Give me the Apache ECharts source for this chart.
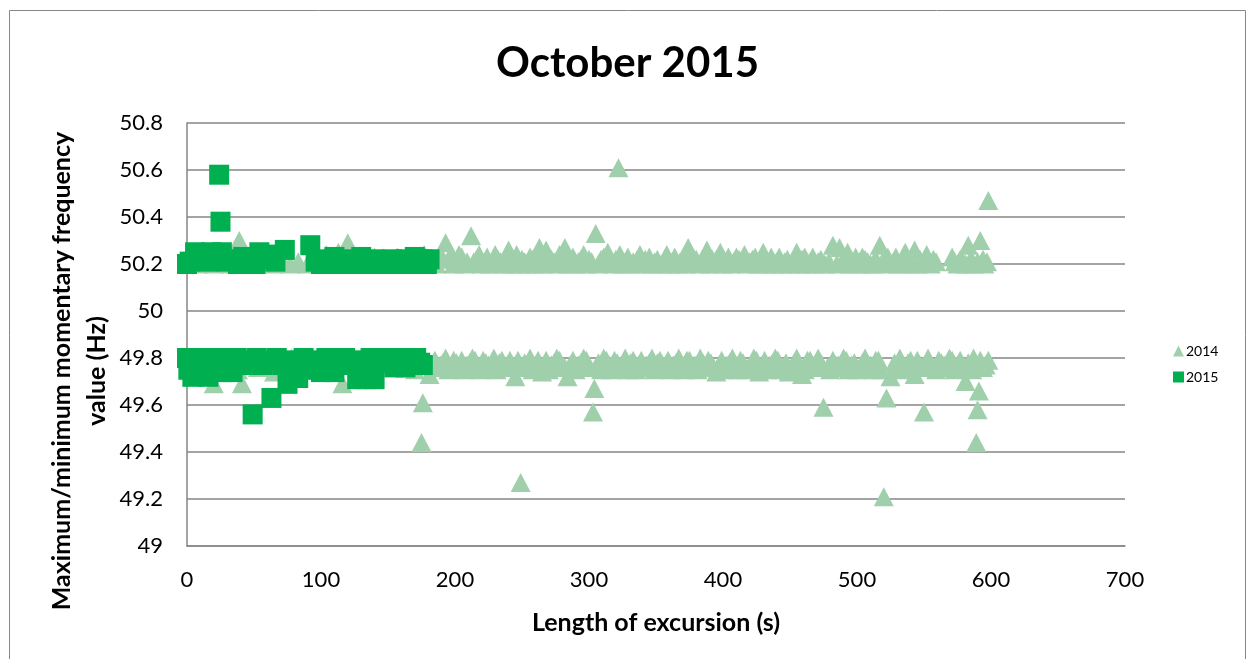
<!DOCTYPE html>
<html>
<head>
<meta charset="utf-8">
<title>October 2015</title>
<script src="https://cdn.jsdelivr.net/npm/echarts@6/dist/echarts.min.js"></script>
<style>
  html, body { margin: 0; padding: 0; background: #fff; }
  #chart { width: 1255px; height: 659px; }
</style>
</head>
<body>
<div id="chart"></div>
<script>
// data: [length of excursion (s), frequency (Hz)]
const xTicks = [0, 100, 200, 300, 400, 500, 600, 700];
const yTicks = [49, 49.2, 49.4, 49.6, 49.8, 50, 50.2, 50.4, 50.6, 50.8];

// 2014 - maximum values
const high2014 = [
  [2,50.21],[8,50.2],[14,50.22],[20,50.2],[27,50.21],[33,50.2],[39,50.3],[45,50.22],[52,50.2],[58,50.21],
  [64,50.2],[70,50.22],[77,50.2],[83,50.21],[90,50.2],[97,50.22],[104,50.24],[110,50.21],[113,50.25],[120,50.29],
  [126,50.21],[133,50.2],[140,50.23],[146,50.21],[152,50.2],[157,50.23],[163,50.21],[170,50.2],[177,50.24],[183,50.21],
  [188,50.23],[193,50.29],[197,50.24],[201,50.21],[205,50.23],[209,50.21],[212,50.32],[216,50.22],[220,50.2],[224,50.23],
  [228,50.21],[232,50.22],[236,50.2],[240,50.26],[244,50.22],[248,50.2],[252,50.21],[256,50.23],[260,50.2],[263,50.27],
  [268,50.26],[272,50.22],[276,50.2],[280,50.23],[282,50.27],[286,50.21],[290,50.2],[294,50.22],[298,50.2],[302,50.21],
  [305,50.33],[309,50.22],[314,50.25],[318,50.2],[322,50.61],[323,50.24],[327,50.21],[331,50.2],[336,50.22],[340,50.2],
  [345,50.23],[349,50.21],[354,50.2],[358,50.24],[362,50.21],[366,50.2],[370,50.22],[374,50.27],[378,50.21],[383,50.2],
  [388,50.26],[392,50.22],[398,50.25],[402,50.21],[406,50.2],[410,50.23],[414,50.21],[418,50.2],[422,50.22],[426,50.2],
  [430,50.25],[434,50.21],[438,50.2],[442,50.23],[446,50.21],[450,50.2],[455,50.25],[459,50.22],[463,50.2],[467,50.23],
  [471,50.21],[476,50.2],[482,50.28],[487,50.27],[490,50.22],[493,50.25],[497,50.21],[500,50.2],[504,50.23],[508,50.21],
  [512,50.2],[517,50.28],[521,50.22],[525,50.2],[529,50.23],[533,50.21],[536,50.25],[540,50.2],[543,50.26],[547,50.22],
  [552,50.24],[555,50.2],[559,50.21],[571,50.23],[575,50.2],[579,50.21],[583,50.28],[587,50.2],[592,50.3],[595,50.2],
  [598,50.47],
  [186,50.2],[191,50.22],[199,50.2],[203,50.24],[207,50.2],[214,50.21],[218,50.24],[222,50.21],[226,50.2],[230,50.24],
  [234,50.21],[238,50.23],[242,50.2],[246,50.24],[250,50.22],[254,50.2],[258,50.22],[262,50.21],[266,50.2],[270,50.23],
  [274,50.21],[278,50.24],[284,50.2],[288,50.23],[292,50.21],[296,50.24],[300,50.22],[307,50.2],[311,50.23],[316,50.21],
  [320,50.22],[325,50.2],[329,50.23],[333,50.21],[338,50.24],[342,50.22],[347,50.2],[351,50.22],[356,50.21],[360,50.2],
  [364,50.23],[368,50.21],[372,50.2],[376,50.23],[380,50.22],[385,50.21],[390,50.2],[395,50.22],[400,50.2],[404,50.23],
  [408,50.21],[412,50.22],[416,50.24],[420,50.21],[424,50.23],[428,50.21],[432,50.2],[436,50.23],[440,50.21],[444,50.2],
  [448,50.22],[452,50.21],[457,50.2],[461,50.23],[465,50.21],[469,50.2],[473,50.22],[479,50.21],[485,50.2],[495,50.2],
  [499,50.23],[502,50.21],[506,50.22],[510,50.2],[514,50.22],[519,50.21],[523,50.23],[527,50.21],[531,50.2],[535,50.22],
  [538,50.21],[545,50.2],[550,50.21],[557,50.22],[573,50.21],[577,50.22],[581,50.2],[585,50.22],[590,50.21],[594,50.22],
  [597,50.21]
];

// 2014 - minimum values
const low2014 = [
  [3,49.78],[9,49.76],[15,49.79],[20,49.69],[26,49.77],[32,49.8],[38,49.75],[41,49.69],[47,49.78],[53,49.76],
  [59,49.79],[65,49.74],[71,49.77],[78,49.8],[84,49.76],[90,49.78],[96,49.75],[102,49.79],[108,49.77],[116,49.69],
  [122,49.78],[128,49.76],[134,49.79],[140,49.75],[146,49.78],[152,49.76],[158,49.8],[164,49.77],[170,49.75],[175,49.44],
  [176,49.61],[179,49.78],[181,49.73],[185,49.79],[189,49.77],[193,49.8],[197,49.76],[201,49.78],[205,49.79],[209,49.77],
  [213,49.8],[217,49.76],[221,49.79],[225,49.77],[229,49.8],[233,49.78],[237,49.76],[241,49.79],[245,49.72],[249,49.27],
  [252,49.78],[256,49.8],[260,49.77],[265,49.74],[268,49.79],[272,49.77],[276,49.8],[280,49.76],[284,49.72],[288,49.79],
  [292,49.77],[296,49.8],[300,49.76],[303,49.57],[304,49.67],[307,49.78],[311,49.8],[315,49.77],[319,49.79],[323,49.76],
  [327,49.8],[331,49.78],[335,49.75],[339,49.79],[343,49.77],[347,49.8],[351,49.78],[355,49.76],[359,49.79],[363,49.77],
  [367,49.8],[371,49.75],[375,49.79],[379,49.77],[383,49.8],[387,49.76],[391,49.78],[395,49.74],[399,49.79],[403,49.77],
  [407,49.8],[411,49.75],[415,49.78],[419,49.76],[423,49.8],[427,49.74],[431,49.79],[435,49.77],[439,49.8],[443,49.75],
  [447,49.78],[451,49.76],[455,49.8],[459,49.73],[463,49.79],[467,49.77],[471,49.8],[475,49.59],[478,49.76],[482,49.79],
  [486,49.77],[490,49.8],[494,49.75],[498,49.78],[502,49.76],[506,49.8],[510,49.77],[514,49.79],[518,49.75],[520,49.21],
  [522,49.63],[525,49.72],[528,49.78],[532,49.8],[536,49.76],[540,49.79],[543,49.73],[547,49.77],[550,49.57],[553,49.8],
  [557,49.76],[561,49.79],[565,49.77],[569,49.8],[573,49.75],[577,49.79],[581,49.7],[584,49.77],[587,49.8],[589,49.44],
  [590,49.58],[591,49.66],[594,49.76],[598,49.79],
  [187,49.76],[191,49.78],[195,49.75],[199,49.79],[203,49.76],[207,49.75],[211,49.78],[215,49.79],[219,49.75],[223,49.78],
  [227,49.76],[231,49.75],[235,49.79],[239,49.77],[243,49.76],[247,49.79],[254,49.76],[258,49.75],[262,49.79],[270,49.75],
  [274,49.78],[278,49.79],[282,49.76],[286,49.77],[290,49.75],[294,49.78],[298,49.79],[305,49.76],[309,49.75],[313,49.79],
  [317,49.75],[321,49.78],[325,49.77],[329,49.75],[333,49.79],[337,49.77],[341,49.76],[345,49.78],[349,49.75],[353,49.79],
  [357,49.77],[361,49.75],[365,49.78],[369,49.77],[373,49.79],[377,49.76],[381,49.75],[385,49.78],[389,49.79],[393,49.76],
  [397,49.77],[401,49.75],[405,49.78],[409,49.77],[413,49.79],[417,49.75],[421,49.77],[425,49.79],[429,49.76],[433,49.75],
  [437,49.78],[441,49.79],[445,49.76],[449,49.74],[453,49.78],[457,49.76],[461,49.75],[465,49.79],[469,49.76],[473,49.78],
  [480,49.75],[484,49.77],[488,49.76],[492,49.79],[496,49.77],[500,49.75],[504,49.78],[508,49.76],[512,49.75],[516,49.79],
  [530,49.76],[534,49.75],[538,49.78],[545,49.79],[549,49.76],[555,49.77],[559,49.75],[563,49.78],[567,49.76],[571,49.79],
  [575,49.77],[579,49.76],[583,49.78],[586,49.75],[592,49.79],[596,49.77]
];

// 2015 - maximum values
const high2015 = [
  [0,50.2],[2,50.21],[6,50.25],[10,50.22],[13,50.24],[16,50.21],[18,50.25],[21,50.22],[24,50.58],[25,50.38],
  [26,50.25],[30,50.21],[34,50.22],[38,50.2],[42,50.23],[45,50.21],[48,50.22],[51,50.2],[54,50.25],[58,50.22],
  [62,50.24],[66,50.21],[73,50.26],[92,50.28],[96,50.21],[100,50.2],[104,50.22],[107,50.2],[110,50.23],[113,50.21],
  [116,50.2],[119,50.22],[122,50.21],[126,50.2],[130,50.23],[134,50.21],[137,50.2],[140,50.22],[144,50.2],[147,50.21],
  [150,50.2],[153,50.22],[157,50.21],[160,50.2],[163,50.22],[166,50.2],[170,50.23],[173,50.21],[176,50.22],[179,50.2],
  [181,50.22]
];

// 2015 - minimum values
const low2015 = [
  [0,49.8],[1,49.75],[4,49.72],[7,49.79],[10,49.76],[13,49.8],[16,49.72],[20,49.78],[23,49.8],[26,49.74],
  [30,49.79],[34,49.74],[37,49.8],[41,49.77],[45,49.79],[49,49.56],[52,49.8],[56,49.77],[60,49.79],[63,49.63],
  [67,49.8],[71,49.77],[75,49.69],[79,49.79],[83,49.715],[87,49.8],[91,49.75],[95,49.79],[100,49.74],[104,49.8],
  [107,49.77],[110,49.74],[114,49.79],[118,49.8],[122,49.77],[127,49.71],[130,49.79],[134,49.71],[137,49.8],[140,49.71],
  [144,49.78],[148,49.8],[152,49.79],[155,49.76],[159,49.8],[163,49.76],[167,49.79],[171,49.8],[174,49.78],[176,49.77]
];

const axisColor = '#868686';
const font = 'Lato, "Open Sans", sans-serif';

const chart = echarts.init(document.getElementById('chart'));
const option = {
  animation: false,
  title: {
    text: 'October 2015',
    left: 'center',
    top: 37,
    textStyle: { fontFamily: font, fontSize: 42, fontWeight: 'bold', color: '#000' }
  },
  legend: {
    orient: 'vertical',
    left: 1168,
    top: 339,
    itemWidth: 11,
    itemHeight: 11,
    itemGap: 12,
    textStyle: { fontFamily: font, fontSize: 14, color: '#000', padding: [0, 0, 0, -3] },
    data: [
      { name: '2014', icon: 'triangle' },
      { name: '2015', icon: 'rect' }
    ]
  },
  grid: { left: 187, right: 130, top: 123, bottom: 113 },
  xAxis: {
    type: 'value',
    min: xTicks[0],
    max: xTicks[xTicks.length - 1],
    interval: 100,
    name: 'Length of excursion (s)',
    nameLocation: 'middle',
    nameGap: 64,
    nameTextStyle: { fontFamily: font, fontSize: 25, fontWeight: 'bold', color: '#000' },
    axisLine: { lineStyle: { color: axisColor, width: 1.5 } },
    axisTick: { show: false },
    axisLabel: { fontFamily: font, fontSize: 22, color: '#000', margin: 23 },
    splitLine: { show: false }
  },
  yAxis: {
    type: 'value',
    min: yTicks[0],
    max: yTicks[yTicks.length - 1],
    interval: 0.2,
    axisLine: { show: true, lineStyle: { color: axisColor, width: 1.5 } },
    axisTick: { show: false },
    axisLabel: { fontFamily: font, fontSize: 22, color: '#000', margin: 24 },
    splitLine: { lineStyle: { color: axisColor, width: 1.5 } }
  },
  graphic: [
    {
      type: 'rect',
      shape: { x: 9.5, y: 10.5, width: 1236, height: 660 },
      style: { fill: 'none', stroke: '#888', lineWidth: 1 },
      silent: true
    },
    {
      type: 'text',
      x: 79,
      y: 371,
      rotation: Math.PI / 2,
      style: {
        text: 'Maximum/minimum momentary frequency\nvalue (Hz)',
        font: 'bold 25px ' + font,
        fill: '#000',
        align: 'center',
        verticalAlign: 'middle',
        lineHeight: 35
      }
    }
  ],
  series: [
    {
      name: '2014',
      type: 'scatter',
      symbol: 'triangle',
      symbolSize: [20, 19],
      itemStyle: { color: '#A0D0AB', opacity: 1 },
      data: high2014.concat(low2014)
    },
    {
      name: '2015',
      type: 'scatter',
      symbol: 'rect',
      symbolSize: 20,
      itemStyle: { color: '#00B050', opacity: 1 },
      data: high2015.concat(low2015)
    }
  ]
};
chart.setOption(option);
window.addEventListener('resize', () => chart.resize());
</script>
</body>
</html>
